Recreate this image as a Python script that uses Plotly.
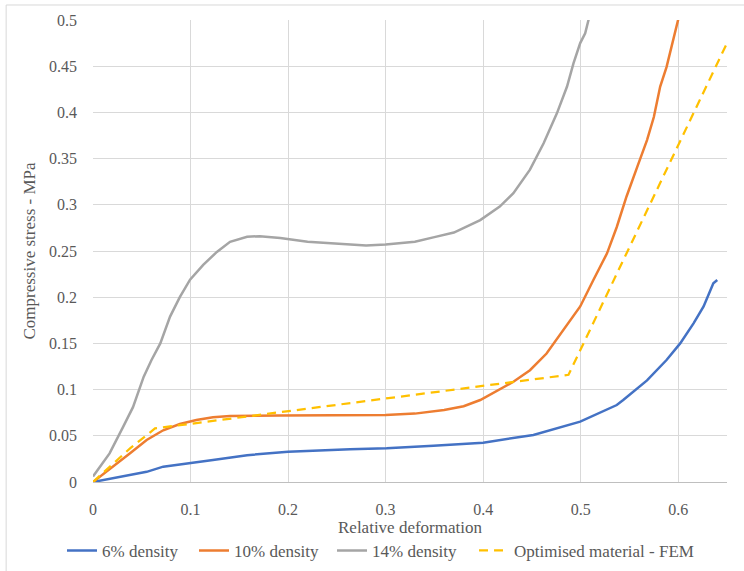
import plotly.graph_objects as go

# 6% density
x6 = [0, 0.021, 0.055, 0.072, 0.0995, 0.123, 0.158, 0.2, 0.2636, 0.301, 0.349, 0.40,
      0.4515, 0.4995, 0.537, 0.5436, 0.568, 0.588, 0.602, 0.6157, 0.626, 0.636, 0.640]
y6 = [0, 0.004, 0.011, 0.0166, 0.0202, 0.0238, 0.029, 0.0328, 0.0354, 0.0364, 0.0393, 0.0426,
      0.0509, 0.0653, 0.0833, 0.0887, 0.110, 0.132, 0.150, 0.1717, 0.190, 0.215, 0.2186]

# 10% density
x10 = [0, 0.021, 0.038, 0.055, 0.072, 0.089, 0.106, 0.123, 0.1405, 0.192, 0.25, 0.30, 0.33,
       0.36, 0.38, 0.397, 0.431, 0.448, 0.465, 0.482, 0.4995, 0.513, 0.527, 0.537, 0.547,
       0.558, 0.568, 0.575, 0.5815, 0.588, 0.593, 0.5985, 0.601]
y10 = [0, 0.0166, 0.031, 0.0455, 0.056, 0.0628, 0.067, 0.070, 0.0714, 0.0720, 0.0722, 0.0725, 0.074,
       0.078, 0.082, 0.0887, 0.1085, 0.121, 0.139, 0.1645, 0.190, 0.2186, 0.2475, 0.276, 0.309,
       0.341, 0.370, 0.395, 0.428, 0.449, 0.471, 0.496, 0.505]

# 14% density
x14 = [0, 0.017, 0.031, 0.041, 0.052, 0.060, 0.069, 0.079, 0.089, 0.0995, 0.113, 0.127, 0.1405,
       0.158, 0.171, 0.192, 0.22, 0.25, 0.28, 0.30, 0.33, 0.35, 0.37, 0.397, 0.417, 0.431, 0.448,
       0.462, 0.4756, 0.486, 0.4926, 0.4995, 0.5046, 0.508, 0.512]
y14 = [0.006, 0.031, 0.060, 0.081, 0.114, 0.132, 0.150, 0.179, 0.200, 0.219, 0.235, 0.249, 0.260,
       0.2655, 0.266, 0.264, 0.260, 0.258, 0.256, 0.257, 0.260, 0.265, 0.270, 0.2835, 0.298, 0.3125, 0.338,
       0.3666, 0.399, 0.428, 0.453, 0.475, 0.4856, 0.5, 0.51]

# Optimised material - FEM
xfem = [0, 0.038, 0.0636, 0.4875, 0.65]
yfem = [0, 0.0364, 0.058, 0.116, 0.475]

FONT = "Liberation Serif"
TXT = "#595959"

fig = go.Figure()
fig.add_trace(go.Scatter(x=x6, y=y6, mode="lines", name="6% density", legend="legend",
                         line=dict(color="#4472C4", width=2.5)))
fig.add_trace(go.Scatter(x=x10, y=y10, mode="lines", name="10% density", legend="legend2",
                         line=dict(color="#ED7D31", width=2.5)))
fig.add_trace(go.Scatter(x=x14, y=y14, mode="lines", name="14% density", legend="legend3",
                         line=dict(color="#A5A5A5", width=2.5)))
fig.add_trace(go.Scatter(x=xfem, y=yfem, mode="lines", name="Optimised material - FEM",
                         legend="legend4",
                         line=dict(color="#FFC000", width=2.25, dash="9px,6px")))


def leg(xp):
    return dict(orientation="h", x=xp, xanchor="left", y=-0.149, yanchor="middle",
                font=dict(family=FONT, size=17, color=TXT), itemwidth=30,
                bgcolor="rgba(0,0,0,0)")


fig.update_layout(
    width=744, height=571,
    margin=dict(l=93, r=17, t=20, b=89, autoexpand=False),
    paper_bgcolor="white", plot_bgcolor="white",
    font=dict(family=FONT, size=16, color=TXT),
    showlegend=True,
    legend=leg(-0.0489),
    legend2=leg(0.1593),
    legend3=leg(0.377),
    legend4=leg(0.601),
    xaxis=dict(range=[0, 0.65], dtick=0.1, tick0=0, showgrid=True, gridcolor="#D9D9D9",
               gridwidth=1, zeroline=False, showline=True, linecolor="#BFBFBF", linewidth=1,
               ticks="", ticklabelstandoff=13, automargin=False,
               tickfont=dict(family=FONT, size=16, color=TXT),
               title=dict(text="Relative deformation", font=dict(family=FONT, size=17, color=TXT),
                          standoff=2)),
    yaxis=dict(range=[0, 0.5], dtick=0.05, tick0=0, showgrid=True, gridcolor="#D9D9D9",
               gridwidth=1, zeroline=False, showline=False, ticks="", ticklabelstandoff=15,
               automargin=False,
               tickfont=dict(family=FONT, size=16, color=TXT),
               title=dict(text="Compressive stress - MPa", font=dict(family=FONT, size=17, color=TXT),
                          standoff=9)),
    shapes=[dict(type="rect", xref="paper", yref="paper", x0=-0.137, y0=-0.5, x1=1.3, y1=1.0325,
                 line=dict(color="#D9D9D9", width=1), fillcolor="rgba(0,0,0,0)", layer="below")],
)

fig.write_html("out.html", config={"displayModeBar": False},
               post_script="document.body.style.margin='0';document.body.style.padding='0';")
